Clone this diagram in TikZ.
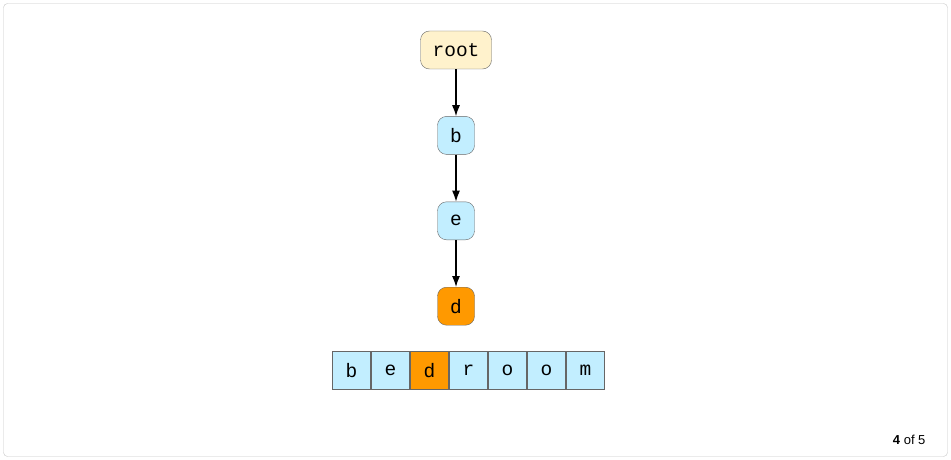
\documentclass[tikz,border=0pt]{standalone}
\usepackage{fontspec}
\setmainfont{Liberation Sans}
\setmonofont{Liberation Mono}
\usetikzlibrary{positioning,arrows.meta}
\definecolor{rootfill}{HTML}{FFF2CC}
\definecolor{nodefill}{HTML}{C2EEFF}
\definecolor{hitfill}{HTML}{FF9900}
\definecolor{edgegray}{HTML}{666666}

\begin{document}
\begin{tikzpicture}[x=1pt, y=-1pt, node distance=47pt,
  trie/.style={draw=edgegray, rounded corners=9pt, minimum height=38pt, minimum width=37pt, inner sep=0pt, font=\ttfamily\fontsize{19.5}{22}\selectfont},
  cell/.style={draw=edgegray, minimum width=38pt, minimum height=38pt, inner sep=0pt, font=\ttfamily\fontsize{19.5}{22}\selectfont}]
  \useasboundingbox (0,0) rectangle (951,460);
  \draw[gray!45, rounded corners=4pt] (3.5,3.5) rectangle (947.5,456.5);

  \node[trie, fill=rootfill, minimum width=71pt] (root) at (456,50) {root};
  \node[trie, fill=nodefill, below=of root] (b) {b};
  \node[trie, fill=nodefill, below=of b] (e) {e};
  \node[trie, fill=hitfill, below=of e] (d) {d};
  \draw[-{Latex[length=11pt,width=8pt]}, line width=1.2pt] (root) -- (b);
  \draw[-{Latex[length=11pt,width=8pt]}, line width=1.2pt] (b) -- (e);
  \draw[-{Latex[length=11pt,width=8pt]}, line width=1.2pt] (e) -- (d);

  \foreach \ch/\col [count=\i] in {b/nodefill, e/nodefill, d/hitfill, r/nodefill, o/nodefill, o/nodefill, m/nodefill}
    \node[cell, fill=\col] (c\i) at ({312.5+39*\i},370.5) {\ch};

  \node[anchor=base east, font=\fontsize{13}{15}\selectfont] (page) at (929,444) {\textbf{4} of 5};
\end{tikzpicture}
\end{document}
